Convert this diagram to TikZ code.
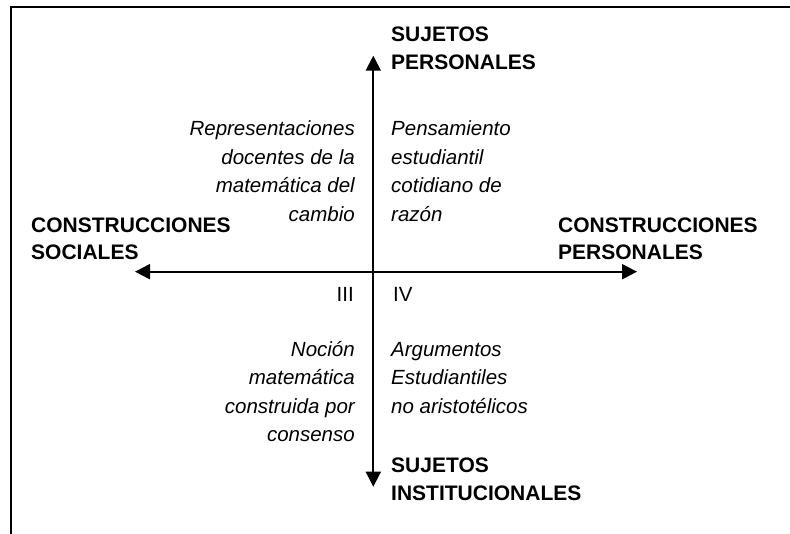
\documentclass[tikz,border=0pt]{standalone}
\usepackage{fontspec}
\setmainfont{Liberation Sans}
\usetikzlibrary{arrows.meta}

\begin{document}
\begin{tikzpicture}[x=1pt,y=-1pt]

        \useasboundingbox (0,0) rectangle (790,534);
        \clip (0,0) rectangle (790,534);

        % marco
        \draw[line width=2pt] (10.5,540) -- (10.5,7.5) -- (800,7.5);

        \coordinate (arriba) at (373.3,55.7);
        \coordinate (abajo)  at (373.3,486.7);
        \coordinate (izq)    at (135,271.7);
        \coordinate (der)    at (637,271.7);

        \begin{scope}[every path/.style={line width=2pt, {Triangle[length=15pt,width=15pt]}-{Triangle[length=15pt,width=15pt]}}]
          \draw (abajo) -- (arriba);
          \draw (izq) -- (der);
        \end{scope}

        % base = linea de abajo
        \begin{scope}[every node/.style={inner sep=0pt, align=left, font=\bfseries\fontsize{21}{27.5}\selectfont}]
          \node[anchor=base west] (sp) at (391,69.3) {SUJETOS\\PERSONALES};
          \node[anchor=base west] (si) at (391,500)  {SUJETOS\\INSTITUCIONALES};
          \node[anchor=base west] (cs) at (31,260)   {CONSTRUCCIONES\\SOCIALES};
          \node[anchor=base west] (cp) at (558,260)  {CONSTRUCCIONES\\PERSONALES};
        \end{scope}

        \begin{scope}[every node/.style={inner sep=0pt, font=\fontsize{20.5}{28.5}\selectfont}]
          \node[anchor=base east] (q3) at (354,301.7) {III};
          \node[anchor=base west] (q4) at (393,301.7) {IV};
        \end{scope}

        \begin{scope}[every node/.style={inner sep=0pt, font=\itshape\fontsize{20.5}{28.5}\selectfont}]
          \node[anchor=base east, align=right] (rep) at (355,221.5) {Representaciones\\docentes de la\\matemática del\\cambio};
          \node[anchor=base west, align=left]  (pen) at (391,221.5) {Pensamiento\\estudiantil\\cotidiano de\\razón};
          \node[anchor=base east, align=right] (noc) at (355,442)   {Noción\\matemática\\construida por\\consenso};
          \node[anchor=base west, align=left]  (arg) at (391,413.5) {Argumentos\\Estudiantiles\\no aristotélicos};
        \end{scope}

      \end{tikzpicture}
\end{document}
